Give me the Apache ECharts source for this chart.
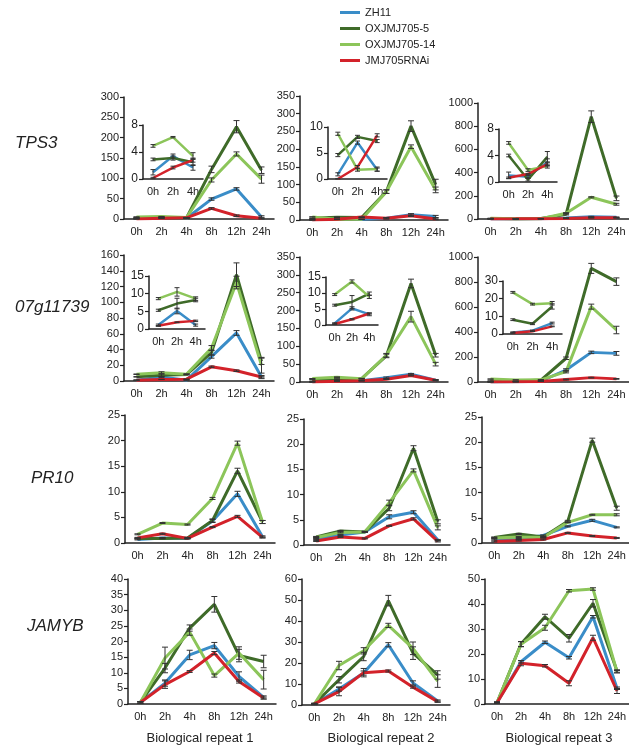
<!DOCTYPE html>
<html><head><meta charset="utf-8">
<script src="https://cdn.jsdelivr.net/npm/echarts@6/dist/echarts.min.js"></script>
<style>html,body{margin:0;padding:0;background:#fff}#c{width:629px;height:745px}</style>
</head><body><div id="c"></div>
<script>
// ---------- data ----------
const timeLabels = ['0h', '2h', '4h', '8h', '12h', '24h'];
const insetLabels = ['0h', '2h', '4h'];
const seriesNames = ['ZH11', 'OXJMJ705-5', 'OXJMJ705-14', 'JMJ705RNAi'];
const geneNames = ['TPS3', '07g11739', 'PR10', 'JAMYB'];
const repeatNames = ['Biological repeat 1', 'Biological repeat 2', 'Biological repeat 3'];

// order of rows in each panel: ZH11, OXJMJ705-5, OXJMJ705-14, JMJ705RNAi
const TPS3_rep1 = [[1.0, 3.4, 1.7, 49, 74, 5], [2.9, 3.1, 2.5, 122, 227, 120], [4.9, 6.2, 3.4, 96, 160, 98], [0.15, 1.7, 2.8, 26, 8, 2]];
const TPS3_rep1_err = [[0.4, 0.3, 0.4, 3, 3, 3], [0.2, 0.3, 0.5, 8, 15, 8], [0.2, 0.1, 0.5, 5, 5, 10], [0.1, 0.2, 0.3, 2, 2, 2]];
const TPS3_rep2 = [[0.9, 7.0, 1.8, 5, 15, 10], [4.6, 8.1, 7.3, 80, 265, 100], [8.7, 1.8, 1.9, 80, 207, 85], [0.0, 2.3, 8.4, 5, 12, 3]];
const TPS3_rep2_err = [[0.3, 0.3, 0.3, 2, 3, 3], [0.3, 0.3, 0.3, 5, 15, 15], [0.3, 0.3, 0.4, 5, 5, 8], [0.1, 0.3, 0.3, 2, 2, 2]];
const TPS3_rep3 = [[1.0, 0.8, 3.0, 8, 20, 15], [4.0, 0.35, 3.8, 40, 882, 178], [5.9, 1.8, 2.4, 50, 187, 127], [0.65, 1.2, 2.7, 5, 10, 10]];
const TPS3_rep3_err = [[0.5, 0.2, 0.5, 3, 3, 3], [0.2, 0.2, 0.8, 5, 50, 20], [0.2, 0.2, 0.3, 5, 5, 8], [0.1, 0.1, 0.3, 2, 2, 2]];
const G07_rep1 = [[1.1, 5.1, 1.1, 31, 61, 5], [5.3, 7.2, 8.2, 36, 135, 25], [8.6, 10.5, 8.6, 42, 125, 20], [0.9, 1.9, 2.3, 18, 13, 5]];
const G07_rep1_err = [[0.3, 0.8, 0.3, 2, 3, 2], [0.3, 1.5, 0.5, 3, 15, 4], [0.3, 1.2, 0.5, 3, 8, 10], [0.1, 0.1, 0.2, 1, 1, 1]];
const G07_rep2 = [[0.5, 5.2, 3.3, 12, 22, 5], [6.2, 7.2, 9.8, 73, 276, 75], [9.5, 13.6, 8.8, 75, 183, 50], [0.3, 1.8, 3.6, 8, 18, 5]];
const G07_rep2_err = [[0.2, 0.5, 0.4, 2, 2, 2], [0.3, 2.0, 0.5, 5, 12, 5], [0.3, 0.5, 0.5, 5, 15, 5], [0.1, 0.2, 0.2, 1, 1, 1]];
const G07_rep3 = [[0.9, 1.9, 6.2, 96, 237, 229], [8.1, 5.8, 15.6, 190, 909, 803], [23.6, 16.9, 17.4, 83, 603, 416], [0.6, 1.5, 4.3, 20, 35, 25]];
const G07_rep3_err = [[0.3, 0.3, 0.5, 10, 10, 15], [0.5, 0.5, 1.5, 10, 40, 30], [0.5, 0.5, 1.0, 10, 20, 30], [0.1, 0.1, 0.2, 3, 3, 3]];
const PR10_rep1 = [[0.7, 1.0, 0.9, 4.3, 9.6, 1.2], [0.9, 0.9, 1.0, 4.4, 14.1, 4.1], [1.7, 3.9, 3.6, 8.7, 19.5, 4.1], [1.0, 1.8, 0.9, 3.1, 5.2, 1.1]];
const PR10_rep1_err = [[0.1, 0.1, 0.1, 0.3, 0.5, 0.2], [0.1, 0.1, 0.1, 0.3, 0.5, 0.3], [0.1, 0.1, 0.1, 0.2, 0.4, 0.3], [0.1, 0.1, 0.1, 0.1, 0.2, 0.1]];
const PR10_rep2 = [[1.2, 2.0, 2.6, 5.6, 6.5, 1.0], [1.6, 2.8, 2.6, 7.3, 19.2, 4.6], [1.5, 2.5, 2.6, 8.4, 14.8, 3.4], [0.8, 1.6, 1.3, 3.8, 5.2, 0.7]];
const PR10_rep2_err = [[0.1, 0.1, 0.1, 0.4, 0.3, 0.1], [0.1, 0.1, 0.1, 0.5, 0.5, 0.4], [0.1, 0.1, 0.1, 0.5, 0.3, 0.4], [0.1, 0.1, 0.1, 0.1, 0.2, 0.1]];
const PR10_rep3 = [[0.7, 0.8, 1.5, 3.3, 4.5, 3.1], [1.1, 1.8, 1.2, 4.3, 20.4, 6.9], [1.0, 1.2, 1.1, 4.1, 5.6, 5.6], [0.3, 0.5, 0.7, 2.0, 1.4, 1.0]];
const PR10_rep3_err = [[0.1, 0.1, 0.1, 0.1, 0.2, 0.1], [0.1, 0.1, 0.1, 0.2, 0.4, 0.4], [0.1, 0.1, 0.1, 0.1, 0.1, 0.2], [0.1, 0.1, 0.1, 0.1, 0.1, 0.1]];
const JAMYB_rep1 = [[0.5, 6.7, 15.7, 18.7, 8.8, 2.1], [0.5, 11.5, 24.3, 31.9, 15.5, 13.6], [0.5, 14.7, 23.0, 9.1, 16.3, 7.8], [0.5, 6.2, 10.4, 16.3, 7.2, 1.9]];
const JAMYB_rep1_err = [[0.2, 1.0, 1.5, 1.0, 1.5, 0.5], [0.3, 1.5, 1.0, 2.5, 2.0, 2.0], [0.3, 3.5, 1.0, 0.5, 2.0, 3.0], [0.2, 1.2, 0.3, 0.5, 0.5, 0.3]];
const JAMYB_rep2 = [[0.5, 7.6, 15.2, 28.7, 10.5, 1.9], [0.5, 12.0, 23.1, 49.7, 24.7, 14.3], [0.5, 18.8, 25.8, 37.9, 27.0, 11.4], [0.5, 6.4, 15.4, 16.2, 8.5, 1.6]];
const JAMYB_rep2_err = [[0.3, 1.0, 1.0, 1.0, 1.0, 0.5], [0.3, 1.5, 2.0, 2.5, 3.0, 2.0], [0.3, 2.0, 1.5, 1.0, 3.0, 3.0], [0.2, 2.0, 2.0, 0.5, 0.5, 0.3]];
const JAMYB_rep3 = [[0.5, 16.9, 24.7, 18.5, 34.9, 6.3], [0.5, 24.0, 34.9, 26.3, 40.3, 13.2], [0.5, 23.9, 30.5, 45.3, 46.0, 12.9], [0.5, 16.3, 15.3, 8.3, 26.5, 5.2]];
const JAMYB_rep3_err = [[0.2, 0.5, 0.5, 0.5, 0.5, 0.5], [0.3, 1.0, 1.0, 1.5, 1.5, 0.5], [0.3, 1.0, 1.0, 0.5, 0.5, 0.5], [0.2, 1.0, 0.5, 1.0, 1.0, 1.0]];

// axis ranges
const yMax = [300, 350, 1000, 160, 350, 1000, 25, 25, 25, 40, 60, 50];
const yStep = [50, 50, 200, 20, 50, 200, 5, 5, 5, 5, 10, 10];
const insetMax = [8, 10, 8, 15, 15, 30];
const insetStep = [4, 5, 4, 5, 5, 10];

// ---------- layout / style ----------
const colors = ['#3a8dc8', '#3f6b29', '#8cc55a', '#d3222a'];
const FONT = '"Liberation Sans", Arial, sans-serif';
const panelData = [TPS3_rep1, TPS3_rep2, TPS3_rep3, G07_rep1, G07_rep2, G07_rep3, PR10_rep1, PR10_rep2, PR10_rep3, JAMYB_rep1, JAMYB_rep2, JAMYB_rep3];
const panelErr = [TPS3_rep1_err, TPS3_rep2_err, TPS3_rep3_err, G07_rep1_err, G07_rep2_err, G07_rep3_err, PR10_rep1_err, PR10_rep2_err, PR10_rep3_err, JAMYB_rep1_err, JAMYB_rep2_err, JAMYB_rep3_err];
const mainBoxes = [
  [124, 97, 150, 122], [300, 96, 148, 124], [478, 103, 152, 116],
  [124, 255, 150, 126], [300, 257, 148, 125], [478, 257, 152, 125],
  [125, 415, 150, 128], [304, 419, 146, 126], [482, 417, 152, 126],
  [128, 579, 148, 125], [302, 579, 148, 126], [485, 579, 150, 125]
];
const insetBoxes = [
  [143, 125, 60, 54], [328, 127, 59, 52], [499, 129, 58, 53],
  [149, 276, 56, 53], [326, 277, 52, 48], [503, 281, 59, 53]
];

const grids = [], xAxes = [], yAxes = [], series = [];
const axisLineStyle = { color: '#222', width: 1.5 };

function errRender(cap) {
  return function (params, api) {
    const x = api.value(0), lo = api.value(1), hi = api.value(2);
    const p1 = api.coord([x, lo]), p2 = api.coord([x, hi]);
    const st = { stroke: '#333', lineWidth: 1 };
    return { type: 'group', children: [
      { type: 'line', shape: { x1: p1[0], y1: p1[1], x2: p2[0], y2: p2[1] }, style: st },
      { type: 'line', shape: { x1: p1[0] - cap, y1: p1[1], x2: p1[0] + cap, y2: p1[1] }, style: st },
      { type: 'line', shape: { x1: p2[0] - cap, y1: p2[1], x2: p2[0] + cap, y2: p2[1] }, style: st }
    ]};
  };
}

function addPanel(box, cats, max, step, data, err, n, isInset) {
  const gi = grids.length;
  grids.push({ left: box[0], top: box[1], width: box[2], height: box[3], containLabel: false });
  xAxes.push({
    type: 'category', gridIndex: gi, data: cats, boundaryGap: true,
    axisLine: { lineStyle: axisLineStyle }, axisTick: { length: 4, lineStyle: { color: '#222', width: 1.2 } },
    axisLabel: { fontFamily: FONT, fontSize: 11, color: '#222', margin: 7, interval: 0 }
  });
  yAxes.push({
    type: 'value', gridIndex: gi, min: 0, max: max, interval: step,
    axisLine: { show: true, lineStyle: axisLineStyle }, axisTick: { show: true, length: 4, lineStyle: { color: '#222', width: 1.2 } },
    splitLine: { show: false },
    axisLabel: { fontFamily: FONT, fontSize: isInset ? 12 : 11, color: '#222', margin: 5, formatter: v => String(v) }
  });
  for (let s = 0; s < 4; s++) {
    series.push({
      type: 'line', name: seriesNames[s], xAxisIndex: gi, yAxisIndex: gi,
      data: data[s].slice(0, n), showSymbol: false, symbol: 'none',
      lineStyle: { color: colors[s], width: isInset ? 2.5 : 3 }, itemStyle: { color: colors[s] },
      animation: false, z: 2 + s * 0.1
    });
  }
  const eb = [];
  for (let s = 0; s < 4; s++) for (let i = 0; i < n; i++) {
    const v = data[s][i], e = err[s][i];
    eb.push([i, Math.max(0, v - e), Math.min(max, v + e)]);
  }
  series.push({
    type: 'custom', name: 'err', xAxisIndex: gi, yAxisIndex: gi, data: eb,
    renderItem: errRender(isInset ? 2.5 : 3), encode: { x: 0, y: [1, 2] }, z: 5, animation: false, silent: true
  });
}

for (let p = 0; p < 12; p++) addPanel(mainBoxes[p], timeLabels, yMax[p], yStep[p], panelData[p], panelErr[p], 6, false);
for (let p = 0; p < 6; p++) addPanel(insetBoxes[p], insetLabels, insetMax[p], insetStep[p], panelData[p], panelErr[p], 3, true);

const geneY = [145, 309, 480, 628];
const geneX = [15, 15, 31, 27];
const graphics = [];
for (let r = 0; r < 4; r++) graphics.push({ type: 'text', left: geneX[r], top: geneY[r] - 10,
  style: { text: geneNames[r], font: 'italic 17px ' + FONT, fill: '#222' } });
const repX = [200, 381, 559];
for (let c = 0; c < 3; c++) graphics.push({ type: 'text', x: repX[c], y: 738,
  style: { text: repeatNames[c], font: '13px ' + FONT, fill: '#222', textAlign: 'center', textVerticalAlign: 'middle' } });

const chart = echarts.init(document.getElementById('c'), null, { renderer: 'canvas' });
chart.setOption({
  backgroundColor: '#fff',
  animation: false,
  legend: {
    data: seriesNames.map((n, i) => ({ name: n, icon: 'rect', itemStyle: { color: colors[i] } })),
    orient: 'vertical', left: 335, top: 2, itemWidth: 20, itemHeight: 3, itemGap: 5,
    textStyle: { fontFamily: FONT, fontSize: 11, color: '#222', lineHeight: 11 },
    selectedMode: false
  },
  grid: grids, xAxis: xAxes, yAxis: yAxes, series: series, graphic: graphics
});
</script></body></html>
